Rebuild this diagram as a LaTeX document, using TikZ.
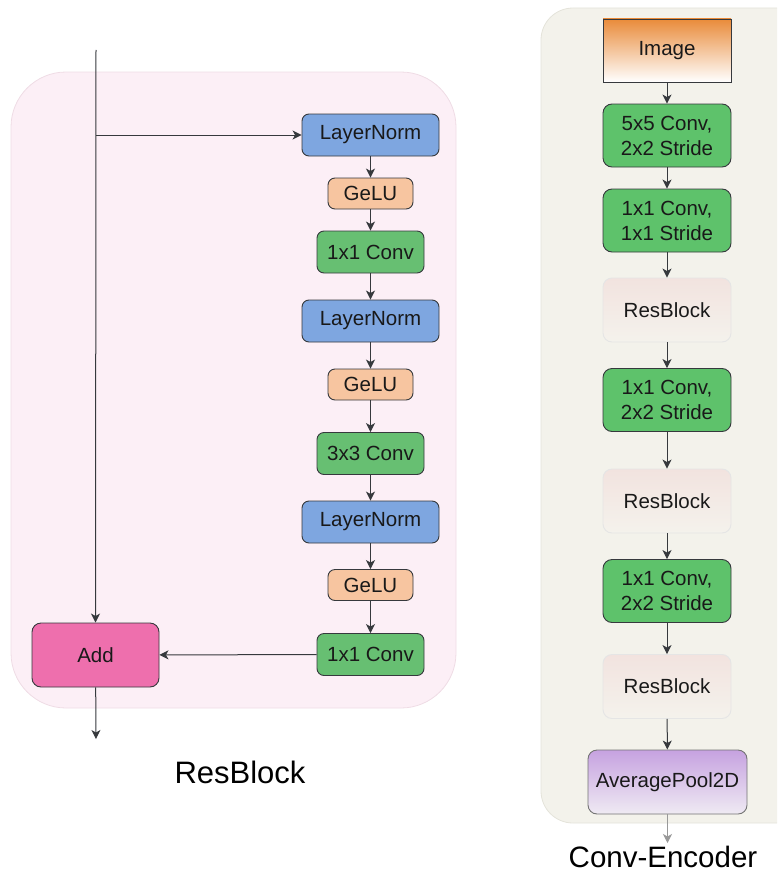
\documentclass[tikz,border=0pt]{standalone}
\usepackage{fontspec}
\setmainfont{Liberation Sans}
\usetikzlibrary{arrows.meta}
\definecolor{lnblue}{HTML}{7EA6E0}
\definecolor{gelu}{HTML}{F7C5A0}
\definecolor{convL}{HTML}{67BF72}
\definecolor{convR}{HTML}{5EC26B}
\definecolor{addpink}{HTML}{EE6FAD}
\definecolor{edge}{HTML}{36393D}
\definecolor{bgpink}{HTML}{FCEFF6}
\definecolor{bgpinkline}{HTML}{EFDCE5}
\definecolor{bgbeige}{HTML}{F3F2EB}
\definecolor{bgbeigeline}{HTML}{E4E3DA}
\definecolor{resTop}{HTML}{F2E3DF}
\definecolor{resBot}{HTML}{F4F2EC}
\definecolor{imgTop}{HTML}{E98B3A}
\definecolor{avgTop}{HTML}{C6A2E0}
\definecolor{avgBot}{HTML}{EFEAF3}
\tikzset{
  blk/.style={draw=edge, line width=0.9pt, rounded corners=7pt, inner sep=0pt, font=\fontsize{20.5}{25}\selectfont, text=black!90, align=center},
  lnbox/.style={blk, fill=lnblue, minimum width=137pt, minimum height=42pt},
  gelubox/.style={blk, fill=gelu, minimum width=85pt, minimum height=31pt},
  convbox/.style={blk, fill=convL, minimum width=107pt, minimum height=42pt},
  rconv/.style={blk, fill=convR, minimum width=128pt, minimum height=63pt, rounded corners=9pt},
  resbox/.style={blk, draw=black!10, top color=resTop, bottom color=resBot, minimum width=128pt, minimum height=64pt, rounded corners=9pt},
  arr/.style={draw=edge, line width=1pt, -{Stealth[length=9pt,width=9pt,inset=2.5pt]}},
}
\begin{document}
\begin{tikzpicture}[x=1pt,y=-1pt]
\useasboundingbox (0,0) rectangle (777,875);
% backgrounds
\draw[draw=bgpinkline, fill=bgpink, line width=0.8pt, rounded corners=55pt] (11,72) rectangle (456,708);
\begin{scope}
\clip (0,0) rectangle (777,875);
\draw[draw=bgbeigeline, fill=bgbeige, line width=0.8pt, rounded corners=32pt] (541,8) rectangle (820,823);
\end{scope}
% ResBlock detail
\node[lnbox] (ln1) at (370.5,135) {LayerNorm};
\node[gelubox] (g1) at (370.5,193.5) {GeLU};
\node[convbox] (c1) at (370.5,252) {1x1 Conv};
\node[lnbox] (ln2) at (370.5,321) {LayerNorm};
\node[gelubox] (g2) at (370.5,384.5) {GeLU};
\node[convbox] (c2) at (370.5,453.5) {3x3 Conv};
\node[lnbox] (ln3) at (370.5,522) {LayerNorm};
\node[gelubox] (g3) at (370.5,585) {GeLU};
\node[convbox] (c3) at (370.5,654.5) {1x1 Conv};
\node[blk, fill=addpink, minimum width=127pt, minimum height=64pt, rounded corners=9pt] (add) at (95.5,655) {Add};
\coordinate (in) at (96,50);
\coordinate (br) at (96,135);
\coordinate (out) at (96,739);
\draw[arr] (in) -- (add);
\draw[arr] (br) -- (ln1);
\draw[arr] (ln1) -- (g1);
\draw[arr] (g1) -- (c1);
\draw[arr] (c1) -- (ln2);
\draw[arr] (ln2) -- (g2);
\draw[arr] (g2) -- (c2);
\draw[arr] (c2) -- (ln3);
\draw[arr] (ln3) -- (g3);
\draw[arr] (g3) -- (c3);
\draw[arr] (c3) -- (add);
\draw[arr] (add) -- (out);
\node[font=\fontsize{31}{36}\selectfont] (t1) at (240,772) {ResBlock};
% Conv-Encoder
\node[blk, rounded corners=0pt, top color=imgTop, bottom color=white, minimum width=128pt, minimum height=63pt] (img) at (667,50.5) {Image};
\node[rconv] (e1) at (667,135.5) {5x5 Conv,\\2x2 Stride};
\node[rconv] (e2) at (667,220.5) {1x1 Conv,\\1x1 Stride};
\node[resbox] (r1) at (667,310) {ResBlock};
\node[rconv] (e3) at (667,400) {1x1 Conv,\\2x2 Stride};
\node[resbox] (r2) at (667,501) {ResBlock};
\node[rconv] (e4) at (667,591) {1x1 Conv,\\2x2 Stride};
\node[resbox] (r3) at (667,686.5) {ResBlock};
\node[blk, draw=black!55, top color=avgTop, bottom color=avgBot, minimum width=159pt, minimum height=64pt, rounded corners=9pt] (avg) at (667.5,782) {AveragePool2D};
\coordinate (eout) at (667.5,843);
\draw[arr] (img) -- (e1);
\draw[arr] (e1) -- (e2);
\draw[arr] (e2) -- (r1);
\draw[arr] (r1) -- (e3);
\draw[arr] (e3) -- (r2);
\draw[arr] (r2) -- (e4);
\draw[arr] (e4) -- (r3);
\draw[arr] (r3) -- (avg);
\draw[arr, draw=black!40] (avg) -- (eout);
\node[font=\fontsize{29.5}{34}\selectfont] (t2) at (663,857) {Conv-Encoder};
\end{tikzpicture}
\end{document}
